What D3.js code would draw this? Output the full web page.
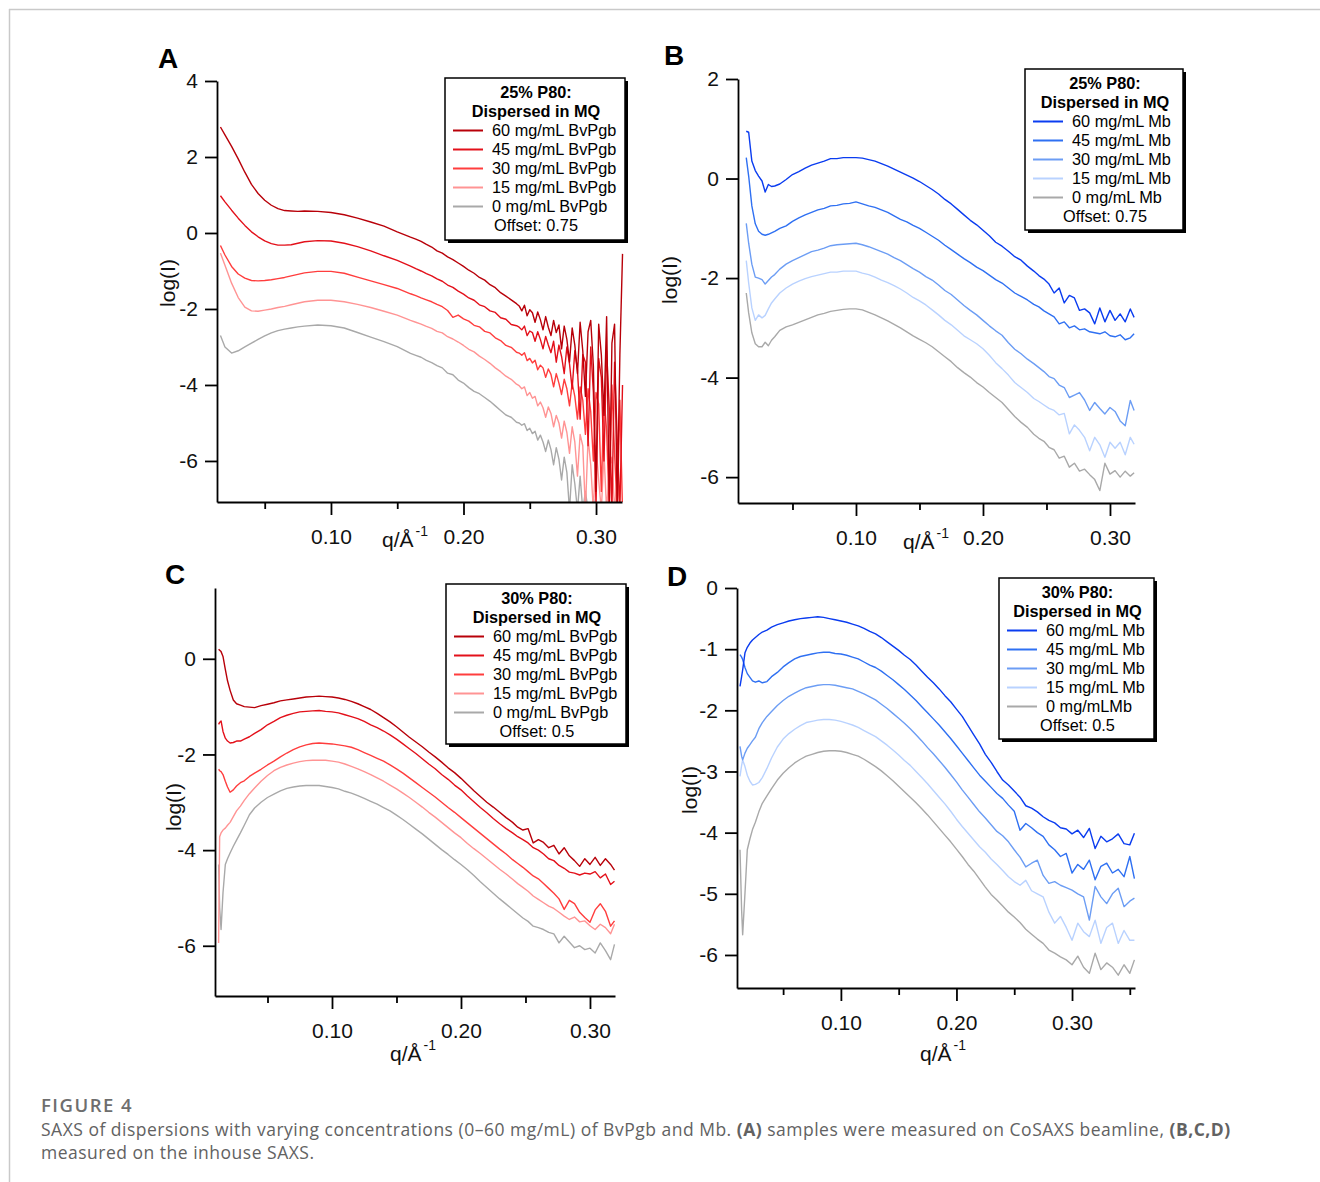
<!DOCTYPE html>
<html><head><meta charset="utf-8">
<script src="https://cdn.jsdelivr.net/npm/d3@7"></script>
<style>body{margin:0;background:#fff}svg{display:block}</style>
</head><body><svg id="c" width="1320" height="1182"></svg>
<script>
// ---------- DATA ----------
const seriesNames = ["60", "45", "30", "15", "0"];
const legendA = ["60 mg/mL BvPgb","45 mg/mL BvPgb","30 mg/mL BvPgb","15 mg/mL BvPgb","0 mg/mL BvPgb"];
const legendB = ["60 mg/mL Mb","45 mg/mL Mb","30 mg/mL Mb","15 mg/mL Mb","0 mg/mL Mb"];
const legendC = ["60 mg/mL BvPgb","45 mg/mL BvPgb","30 mg/mL BvPgb","15 mg/mL BvPgb","0 mg/mL BvPgb"];
const legendD = ["60 mg/mL Mb","45 mg/mL Mb","30 mg/mL Mb","15 mg/mL Mb","0 mg/mLMb"];
const titlesA = ["25% P80:", "Dispersed in MQ", "Offset: 0.75"];
const titlesB = ["25% P80:", "Dispersed in MQ", "Offset: 0.75"];
const titlesC = ["30% P80:", "Dispersed in MQ", "Offset: 0.5"];
const titlesD = ["30% P80:", "Dispersed in MQ", "Offset: 0.5"];
const xMajorTicks = [0.10, 0.20, 0.30];
const xMinorTicksABC = [0.05, 0.15, 0.25];
const xMinorTicksD = [0.05, 0.15, 0.25, 0.35];
const yTicksA = [4, 2, 0, -2, -4, -6];
const yTicksB = [2, 0, -2, -4, -6];
const yTicksC = [0, -2, -4, -6];
const yTicksD = [0, -1, -2, -3, -4, -5, -6];

// Panel A (q in 1/Å, log(I))
const qA = [0.0166,0.020,0.025,0.030,0.035,0.040,0.045,0.050,0.055,0.060,0.065,0.070,0.075,0.080,0.090,0.100,0.110,0.120,0.130,0.140,0.150,0.160,
0.164,0.168,0.172,0.176,0.180,0.184,0.188,0.192,0.196,0.200,0.204,0.208,0.212,0.216,0.220,0.224,0.228,0.232,0.236,0.240,
0.242,0.244,0.246,0.248,0.250,0.252,0.254,0.256,0.258,0.260,0.262,0.264,0.266,0.268,0.270,0.272,0.274,0.276,0.278,0.280,0.282,0.284,0.286,0.288,0.290,0.292,0.294,0.296,0.298,0.300,0.302,0.304,0.306,0.308,0.310,0.312,0.314,0.316,0.318,0.320];
const A60 = [2.79,2.58,2.28,1.95,1.60,1.28,1.04,0.86,0.73,0.64,0.59,0.58,0.57,0.58,0.57,0.54,0.48,0.39,0.29,0.18,0.03,-0.11,
-0.16,-0.22,-0.30,-0.37,-0.47,-0.53,-0.63,-0.70,-0.79,-0.88,-0.98,-1.06,-1.17,-1.24,-1.36,-1.44,-1.57,-1.66,-1.76,-1.86,
-1.92,-2.05,-1.90,-2.18,-2.02,-2.10,-2.35,-2.08,-2.28,-2.55,-2.20,-2.48,-2.70,-2.30,-2.62,-2.42,-3.05,-2.45,-2.80,-3.40,-2.50,-2.95,-3.70,-2.35,-3.10,-4.30,-2.60,-2.30,-3.50,-6.80,-2.40,-3.20,-4.80,-2.20,-7.20,-2.90,-2.40,-7.30,-3.20,-0.55];
const A45 = [0.98,0.82,0.60,0.39,0.20,0.03,-0.10,-0.21,-0.28,-0.32,-0.32,-0.31,-0.27,-0.23,-0.20,-0.21,-0.27,-0.36,-0.47,-0.60,-0.72,-0.87,
-0.94,-1.00,-1.07,-1.13,-1.21,-1.27,-1.37,-1.43,-1.53,-1.61,-1.71,-1.77,-1.89,-1.94,-2.05,-2.09,-2.23,-2.27,-2.41,-2.44,
-2.48,-2.55,-2.45,-2.70,-2.58,-2.62,-2.85,-2.60,-2.80,-3.05,-2.72,-2.95,-3.15,-2.85,-3.40,-2.95,-3.25,-3.70,-3.00,-3.45,-4.10,-3.10,-3.60,-4.90,-3.20,-3.40,-5.60,-3.00,-4.20,-7.20,-3.30,-3.80,-6.00,-3.10,-4.60,-7.30,-3.40,-5.40,-7.30,-4.00];
const A30 = [-0.33,-0.58,-0.88,-1.08,-1.19,-1.25,-1.26,-1.25,-1.23,-1.20,-1.17,-1.13,-1.09,-1.05,-1.01,-1.01,-1.06,-1.16,-1.26,-1.36,-1.46,-1.60,
-1.65,-1.71,-1.76,-1.81,-1.88,-1.94,-2.04,-2.22,-2.16,-2.26,-2.32,-2.43,-2.47,-2.59,-2.63,-2.76,-2.83,-2.96,-3.01,-3.14,
-3.16,-3.22,-3.15,-3.36,-3.30,-3.42,-3.35,-3.60,-3.48,-3.55,-3.80,-3.58,-3.72,-4.05,-3.70,-3.95,-4.25,-3.85,-4.10,-4.55,-3.95,-4.30,-4.90,-4.05,-4.40,-5.30,-4.10,-4.70,-6.00,-4.20,-4.50,-6.80,-4.30,-5.20,-7.30,-4.00,-5.80,-7.30,-4.40,-7.30];
const A15 = [-0.53,-0.85,-1.32,-1.70,-1.95,-2.05,-2.06,-2.03,-2.00,-1.96,-1.93,-1.89,-1.85,-1.81,-1.77,-1.77,-1.81,-1.88,-1.96,-2.06,-2.16,-2.30,
-2.35,-2.40,-2.46,-2.51,-2.59,-2.63,-2.73,-2.79,-2.87,-2.96,-3.06,-3.13,-3.24,-3.33,-3.43,-3.55,-3.65,-3.77,-3.85,-3.98,
-4.02,-4.10,-4.05,-4.28,-4.20,-4.35,-4.30,-4.55,-4.45,-4.60,-4.85,-4.58,-4.75,-5.10,-4.80,-5.00,-5.40,-4.95,-5.25,-5.80,-5.10,-5.50,-6.40,-5.30,-5.60,-7.30,-5.40,-6.10,-7.30,-5.60,-6.50,-7.30,-5.80,-7.30,-6.20,-5.90,-7.30,-6.40,-7.30,-7.30];
const A0 = [-2.70,-3.00,-3.16,-3.10,-3.00,-2.90,-2.80,-2.71,-2.63,-2.57,-2.53,-2.50,-2.47,-2.45,-2.42,-2.44,-2.50,-2.62,-2.74,-2.86,-2.99,-3.17,
-3.22,-3.27,-3.35,-3.41,-3.49,-3.55,-3.69,-3.73,-3.87,-3.95,-4.07,-4.17,-4.23,-4.33,-4.43,-4.55,-4.67,-4.79,-4.85,-4.98,
-5.00,-5.06,-5.02,-5.20,-5.14,-5.28,-5.22,-5.45,-5.32,-5.50,-5.75,-5.45,-5.70,-6.10,-5.65,-5.95,-6.50,-5.90,-6.30,-7.30,-6.10,-6.60,-7.30,-6.40,-7.30,-6.80,-7.30,-7.30,-7.00,-7.30,-7.30,-7.30,-7.30,-7.30,-7.30,-7.30,-7.30,-7.30,-7.30,-7.30];

// Panel B
const qB = [0.0136,0.0155,0.018,0.0207,0.0233,0.026,0.0285,0.031,0.0335,0.036,
0.040,0.045,0.050,0.055,0.060,0.065,0.070,0.075,0.080,0.085,0.090,0.095,0.100,0.105,0.110,0.115,0.120,0.125,0.130,0.135,0.140,0.145,0.150,0.155,0.160,0.165,0.170,0.175,0.180,0.185,0.190,0.195,0.200,0.205,0.210,0.215,0.220,0.225,0.230,0.235,0.240,
0.244,0.248,0.252,0.256,0.260,0.264,0.268,0.272,0.276,0.280,0.284,0.288,0.292,0.296,0.300,0.304,0.308,0.312,0.316,0.319];
const B60 = [0.95,0.93,0.35,0.16,0.05,-0.05,-0.27,-0.12,-0.16,-0.15,
-0.11,-0.02,0.08,0.14,0.21,0.27,0.31,0.35,0.40,0.40,0.42,0.42,0.42,0.41,0.38,0.35,0.30,0.25,0.19,0.13,0.07,0.01,-0.06,-0.14,-0.22,-0.31,-0.42,-0.51,-0.62,-0.73,-0.84,-0.93,-1.04,-1.15,-1.28,-1.36,-1.46,-1.57,-1.64,-1.76,-1.86,
-1.95,-2.02,-2.12,-2.30,-2.20,-2.50,-2.35,-2.40,-2.65,-2.62,-2.70,-2.92,-2.60,-2.88,-2.65,-2.85,-2.72,-2.88,-2.62,-2.79];
const B45 = [0.42,0.05,-0.55,-0.91,-1.06,-1.12,-1.14,-1.12,-1.09,-1.06,
-1.00,-0.95,-0.86,-0.79,-0.73,-0.68,-0.63,-0.60,-0.55,-0.54,-0.51,-0.50,-0.47,-0.51,-0.55,-0.58,-0.63,-0.68,-0.75,-0.82,-0.87,-0.94,-1.00,-1.08,-1.16,-1.24,-1.34,-1.43,-1.52,-1.61,-1.69,-1.78,-1.85,-1.94,-2.03,-2.10,-2.20,-2.30,-2.37,-2.44,-2.53,
-2.58,-2.66,-2.72,-2.78,-2.92,-2.88,-3.00,-2.96,-3.04,-3.02,-3.08,-3.10,-3.12,-3.08,-3.16,-3.18,-3.14,-3.24,-3.20,-3.12];
const B30 = [-0.90,-1.30,-1.72,-1.98,-2.00,-2.03,-2.12,-2.05,-1.98,-1.93,
-1.82,-1.72,-1.65,-1.59,-1.53,-1.47,-1.44,-1.40,-1.35,-1.33,-1.32,-1.31,-1.30,-1.33,-1.37,-1.42,-1.47,-1.52,-1.59,-1.65,-1.73,-1.81,-1.88,-1.97,-2.04,-2.14,-2.25,-2.33,-2.44,-2.55,-2.65,-2.74,-2.85,-2.96,-3.06,-3.15,-3.30,-3.43,-3.52,-3.63,-3.72,
-3.80,-3.88,-3.98,-4.02,-4.15,-4.20,-4.40,-4.35,-4.30,-4.45,-4.66,-4.50,-4.62,-4.73,-4.60,-4.68,-4.87,-4.97,-4.46,-4.66];
const B15 = [-1.65,-2.10,-2.60,-2.85,-2.74,-2.80,-2.75,-2.62,-2.50,-2.42,
-2.30,-2.20,-2.12,-2.06,-2.01,-1.97,-1.94,-1.91,-1.88,-1.88,-1.86,-1.86,-1.86,-1.90,-1.93,-1.98,-2.04,-2.09,-2.15,-2.22,-2.30,-2.39,-2.46,-2.54,-2.64,-2.74,-2.85,-2.94,-3.05,-3.16,-3.24,-3.32,-3.42,-3.55,-3.70,-3.82,-3.95,-4.10,-4.20,-4.30,-4.42,
-4.48,-4.55,-4.62,-4.66,-4.75,-4.72,-5.13,-4.95,-5.06,-5.20,-5.47,-5.20,-5.35,-5.60,-5.30,-5.42,-5.30,-5.55,-5.20,-5.34];
const B0 = [-2.30,-2.70,-3.10,-3.32,-3.38,-3.38,-3.29,-3.36,-3.25,-3.18,
-3.05,-2.98,-2.94,-2.89,-2.84,-2.79,-2.74,-2.71,-2.67,-2.65,-2.63,-2.62,-2.62,-2.64,-2.69,-2.74,-2.80,-2.86,-2.93,-3.00,-3.08,-3.16,-3.23,-3.30,-3.38,-3.48,-3.58,-3.68,-3.80,-3.90,-3.99,-4.10,-4.19,-4.30,-4.40,-4.50,-4.64,-4.78,-4.90,-5.00,-5.14,
-5.22,-5.28,-5.40,-5.45,-5.62,-5.58,-5.80,-5.72,-5.88,-5.84,-5.95,-6.05,-6.27,-5.72,-5.94,-5.87,-6.00,-5.88,-5.98,-5.91];

// Panel C
const qC = [0.0121,0.0129,0.014,0.0155,0.0173,0.019,0.021,0.0235,0.026,0.029,0.032,0.036,
0.040,0.045,0.050,0.055,0.060,0.065,0.070,0.075,0.080,0.085,0.090,0.095,0.100,0.105,0.110,0.115,0.120,0.125,0.130,0.135,0.140,0.145,0.150,0.155,0.160,0.165,0.170,0.175,0.180,0.185,0.190,0.195,0.200,0.205,0.210,0.215,0.220,0.225,0.230,0.235,0.240,
0.244,0.248,0.252,0.256,0.260,0.264,0.268,0.272,0.276,0.280,0.284,0.288,0.292,0.296,0.300,0.304,0.308,0.312,0.316,0.319];
const C60 = [0.20,0.18,0.15,0.05,-0.22,-0.46,-0.66,-0.86,-0.94,-0.97,-1.00,-1.01,
-1.02,-0.98,-0.95,-0.92,-0.88,-0.86,-0.84,-0.82,-0.80,-0.79,-0.78,-0.79,-0.80,-0.82,-0.85,-0.89,-0.94,-1.00,-1.06,-1.14,-1.23,-1.32,-1.42,-1.53,-1.64,-1.74,-1.84,-1.95,-2.05,-2.16,-2.28,-2.38,-2.50,-2.63,-2.76,-2.88,-3.00,-3.10,-3.21,-3.32,-3.42,
-3.52,-3.58,-3.55,-3.85,-3.78,-3.84,-3.95,-3.90,-4.08,-3.95,-4.12,-4.22,-4.34,-4.18,-4.30,-4.15,-4.32,-4.18,-4.30,-4.42];
const C45 = [-1.37,-1.33,-1.30,-1.52,-1.66,-1.72,-1.76,-1.75,-1.72,-1.72,-1.68,-1.63,
-1.56,-1.48,-1.38,-1.31,-1.23,-1.18,-1.14,-1.11,-1.10,-1.09,-1.08,-1.10,-1.11,-1.13,-1.17,-1.21,-1.25,-1.31,-1.38,-1.44,-1.51,-1.59,-1.68,-1.78,-1.88,-1.98,-2.09,-2.20,-2.30,-2.42,-2.52,-2.64,-2.74,-2.87,-2.99,-3.11,-3.22,-3.34,-3.45,-3.55,-3.64,
-3.72,-3.78,-3.85,-3.95,-4.00,-4.08,-4.18,-4.22,-4.32,-4.38,-4.46,-4.48,-4.52,-4.48,-4.50,-4.45,-4.58,-4.50,-4.72,-4.65];
const C30 = [-2.31,-2.34,-2.36,-2.42,-2.56,-2.68,-2.79,-2.74,-2.66,-2.59,-2.55,-2.46,
-2.39,-2.31,-2.22,-2.14,-2.05,-1.97,-1.90,-1.84,-1.80,-1.77,-1.76,-1.77,-1.78,-1.80,-1.82,-1.85,-1.90,-1.96,-2.02,-2.08,-2.14,-2.22,-2.30,-2.39,-2.49,-2.59,-2.69,-2.79,-2.89,-3.00,-3.11,-3.21,-3.32,-3.43,-3.54,-3.65,-3.76,-3.87,-3.98,-4.08,-4.20,
-4.28,-4.36,-4.45,-4.54,-4.60,-4.70,-4.80,-4.90,-5.02,-5.24,-5.05,-5.12,-5.30,-5.41,-5.51,-5.25,-5.12,-5.28,-5.59,-5.48];
const C15 = [-5.94,-3.72,-3.64,-3.58,-3.54,-3.48,-3.42,-3.30,-3.18,-3.08,-2.96,-2.82,
-2.70,-2.56,-2.44,-2.34,-2.27,-2.22,-2.18,-2.15,-2.13,-2.12,-2.12,-2.12,-2.14,-2.16,-2.20,-2.25,-2.30,-2.36,-2.42,-2.49,-2.56,-2.64,-2.72,-2.81,-2.90,-3.00,-3.10,-3.21,-3.31,-3.42,-3.53,-3.64,-3.74,-3.86,-3.97,-4.07,-4.18,-4.29,-4.40,-4.50,-4.61,
-4.70,-4.78,-4.86,-4.96,-5.03,-5.10,-5.17,-5.22,-5.30,-5.38,-5.45,-5.40,-5.50,-5.48,-5.58,-5.66,-5.55,-5.62,-5.75,-5.55];
const C0 = [-4.30,-5.20,-5.66,-4.89,-4.30,-4.18,-4.06,-3.92,-3.79,-3.64,-3.48,-3.26,
-3.12,-3.00,-2.90,-2.83,-2.76,-2.71,-2.68,-2.66,-2.65,-2.65,-2.65,-2.67,-2.69,-2.72,-2.77,-2.81,-2.86,-2.92,-2.98,-3.04,-3.11,-3.18,-3.27,-3.36,-3.46,-3.56,-3.66,-3.77,-3.88,-3.99,-4.09,-4.20,-4.30,-4.41,-4.53,-4.66,-4.78,-4.90,-5.02,-5.13,-5.24,
-5.33,-5.42,-5.49,-5.59,-5.62,-5.66,-5.72,-5.75,-5.94,-5.80,-5.92,-6.04,-6.00,-6.08,-6.05,-6.15,-5.94,-6.10,-6.29,-5.97];

// Panel D
const qD = [0.0127,0.0141,0.015,0.017,0.019,0.0213,0.0235,0.026,0.029,0.032,0.036,
0.040,0.045,0.050,0.055,0.060,0.065,0.070,0.075,0.080,0.085,0.090,0.095,0.100,0.105,0.110,0.115,0.120,0.125,0.130,0.135,0.140,0.145,0.150,0.155,0.160,0.165,0.170,0.175,0.180,0.185,0.190,0.195,0.200,0.205,0.210,0.215,0.220,0.225,0.230,0.235,0.240,0.245,0.250,0.255,0.260,0.265,0.270,0.275,0.280,0.285,0.290,0.295,0.300,0.305,0.310,0.315,0.320,0.325,0.330,0.335,0.340,0.345,0.350,0.354];
const D60 = [-1.61,-1.45,-1.34,-1.06,-0.97,-0.90,-0.85,-0.81,-0.76,-0.72,-0.69,
-0.64,-0.60,-0.57,-0.54,-0.52,-0.50,-0.49,-0.48,-0.47,-0.48,-0.50,-0.52,-0.54,-0.56,-0.59,-0.62,-0.66,-0.71,-0.75,-0.81,-0.88,-0.95,-1.02,-1.10,-1.17,-1.26,-1.36,-1.46,-1.55,-1.65,-1.76,-1.86,-1.98,-2.10,-2.25,-2.40,-2.55,-2.72,-2.85,-3.00,-3.14,-3.22,-3.32,-3.42,-3.56,-3.60,-3.66,-3.74,-3.80,-3.84,-3.92,-3.94,-4.02,-3.96,-4.08,-3.93,-4.26,-4.06,-4.15,-4.10,-4.02,-4.18,-4.20,-4.01];
const D45 = [-1.09,-1.13,-1.17,-1.30,-1.40,-1.46,-1.52,-1.54,-1.52,-1.55,-1.53,
-1.45,-1.38,-1.29,-1.22,-1.16,-1.12,-1.10,-1.08,-1.06,-1.05,-1.05,-1.07,-1.08,-1.10,-1.13,-1.16,-1.21,-1.26,-1.30,-1.36,-1.43,-1.50,-1.58,-1.66,-1.75,-1.84,-1.94,-2.04,-2.14,-2.24,-2.35,-2.46,-2.58,-2.70,-2.82,-2.94,-3.06,-3.16,-3.26,-3.36,-3.44,-3.55,-3.65,-3.96,-3.85,-3.92,-4.00,-4.06,-4.20,-4.28,-4.39,-4.34,-4.66,-4.52,-4.60,-4.45,-4.77,-4.55,-4.50,-4.66,-4.60,-4.72,-4.39,-4.75];
const D30 = [-2.59,-2.75,-2.81,-2.70,-2.62,-2.56,-2.50,-2.44,-2.30,-2.20,-2.10,
-2.02,-1.92,-1.84,-1.77,-1.72,-1.67,-1.63,-1.61,-1.59,-1.58,-1.58,-1.59,-1.61,-1.63,-1.65,-1.69,-1.73,-1.78,-1.83,-1.90,-1.97,-2.05,-2.13,-2.21,-2.30,-2.40,-2.50,-2.61,-2.71,-2.82,-2.93,-3.05,-3.17,-3.30,-3.42,-3.54,-3.66,-3.76,-3.87,-3.98,-4.05,-4.15,-4.28,-4.40,-4.56,-4.50,-4.45,-4.70,-4.83,-4.80,-4.86,-4.90,-4.94,-5.00,-5.05,-5.43,-4.88,-5.05,-5.16,-5.00,-4.91,-5.21,-5.12,-5.07];
const D15 = [-3.08,-2.90,-2.81,-2.92,-3.06,-3.16,-3.22,-3.21,-3.18,-3.10,-2.95,
-2.78,-2.60,-2.47,-2.38,-2.31,-2.25,-2.20,-2.18,-2.16,-2.15,-2.15,-2.16,-2.18,-2.21,-2.24,-2.28,-2.33,-2.38,-2.43,-2.50,-2.57,-2.65,-2.73,-2.82,-2.90,-3.00,-3.10,-3.20,-3.31,-3.42,-3.53,-3.65,-3.78,-3.90,-4.01,-4.12,-4.23,-4.32,-4.43,-4.52,-4.62,-4.72,-4.80,-4.86,-4.78,-4.95,-5.00,-5.05,-5.30,-5.48,-5.37,-5.55,-5.76,-5.48,-5.62,-5.70,-5.43,-5.81,-5.55,-5.48,-5.81,-5.60,-5.76,-5.76];
const D0 = [-4.28,-5.27,-5.67,-4.99,-4.28,-4.10,-3.95,-3.83,-3.66,-3.52,-3.40,
-3.28,-3.14,-3.03,-2.94,-2.86,-2.80,-2.75,-2.72,-2.69,-2.67,-2.66,-2.66,-2.67,-2.69,-2.72,-2.75,-2.80,-2.86,-2.92,-2.99,-3.07,-3.15,-3.24,-3.33,-3.42,-3.51,-3.61,-3.71,-3.82,-3.93,-4.04,-4.15,-4.27,-4.39,-4.52,-4.63,-4.76,-4.89,-5.01,-5.10,-5.20,-5.30,-5.38,-5.47,-5.58,-5.66,-5.74,-5.81,-5.92,-5.97,-6.03,-6.08,-6.16,-6.02,-6.20,-6.30,-5.97,-6.24,-6.13,-6.20,-6.33,-6.16,-6.30,-6.08];

// ---------- STYLE ----------
const redColors  = ["#b80009", "#e3101a", "#ff3d3d", "#ff9494", "#a9a9a9"];
const blueColors = ["#0a3cf0", "#2f70f2", "#6c9df4", "#b9d2ff", "#a9a9a9"];
const FONT = "'Liberation Sans', Arial, Helvetica, sans-serif";

const panels = [
  {id:"A", q:qA, s:[A60,A45,A30,A15,A0], colors:redColors, names:legendA, titles:titlesA,
   left:217, right:622, top:81, bottom:502, xdom:[0.014,0.3196], ydom:[-7.08,4], yticks:yTicksA, xminor:xMinorTicksABC,
   letter:[158,68], ylab:[175,283], xlab:[382,547], leg:[445,78,180,162]},
  {id:"B", q:qB, s:[B60,B45,B30,B15,B0], colors:blueColors, names:legendB, titles:titlesB,
   left:738, right:1135, top:79, bottom:503, xdom:[0.0071,0.3197], ydom:[-6.52,2], yticks:yTicksB, xminor:xMinorTicksABC,
   letter:[664,65], ylab:[677,280], xlab:[903,549], leg:[1025,69,158,161]},
  {id:"C", q:qC, s:[C60,C45,C30,C15,C0], colors:redColors, names:legendC, titles:titlesC,
   left:215, right:615, top:588, bottom:996, xdom:[0.0093,0.3194], ydom:[-7.05,1.48], yticks:yTicksC, xminor:xMinorTicksABC,
   letter:[165,584], ylab:[181,807], xlab:[390,1061], leg:[446,584,180,160]},
  {id:"D", q:qD, s:[D60,D45,D30,D15,D0], colors:blueColors, names:legendD, titles:titlesD,
   left:737, right:1135, top:588, bottom:988, xdom:[0.0101,0.3545], ydom:[-6.54,0], yticks:yTicksD, xminor:xMinorTicksD,
   letter:[667,586], ylab:[697,790], xlab:[920,1061], leg:[999,578,155,161]}
];

const svg = d3.select("#c");

// frame
svg.append("line").attr("x1",9).attr("x2",1320).attr("y1",9.5).attr("y2",9.5).attr("stroke","#c9c9c9").attr("stroke-width",1.5);
svg.append("line").attr("x1",9.5).attr("x2",9.5).attr("y1",9).attr("y2",1182).attr("stroke","#c9c9c9").attr("stroke-width",1.5);

panels.forEach(p => {
  const x = d3.scaleLinear().domain(p.xdom).range([p.left, p.right]);
  const y = d3.scaleLinear().domain(p.ydom).range([p.bottom, p.top]);
  const g = svg.append("g");

  const clipId = "clip" + p.id;
  svg.append("clipPath").attr("id", clipId).append("rect")
    .attr("x", p.left).attr("y", p.top - 2).attr("width", p.right - p.left + 2).attr("height", p.bottom - p.top + 2);

  const line = d3.line().x(d => x(d[0])).y(d => y(d[1]));
  const lg = g.append("g").attr("clip-path", `url(#${clipId})`);
  for (let i = p.s.length - 1; i >= 0; i--) {
    lg.append("path").datum(d3.zip(p.q, p.s[i]))
      .attr("d", line).attr("fill", "none").attr("stroke", p.colors[i])
      .attr("stroke-width", 1.4).attr("stroke-linejoin", "round");
  }

  const ya = g.append("g").attr("transform", `translate(${p.left},0)`)
    .call(d3.axisLeft(y).tickValues(p.yticks).tickSize(12).tickSizeOuter(0).tickPadding(7).tickFormat(d => String(d)));
  const xa = g.append("g").attr("transform", `translate(0,${p.bottom})`)
    .call(d3.axisBottom(x).tickValues(xMajorTicks).tickSize(13).tickSizeOuter(0).tickPadding(14).tickFormat(d3.format(".2f")));
  const xm = g.append("g").attr("transform", `translate(0,${p.bottom})`)
    .call(d3.axisBottom(x).tickValues(p.xminor).tickSize(7).tickSizeOuter(0).tickFormat(""));
  xm.select(".domain").remove();
  [ya, xa, xm].forEach(a => {
    a.selectAll(".domain").attr("stroke", "#000").attr("stroke-width", 1.8);
    a.selectAll(".tick line").attr("stroke", "#000").attr("stroke-width", 1.8);
    a.selectAll("text").attr("font-family", FONT).attr("font-size", 21).attr("fill", "#111");
  });

  g.append("text").attr("transform", `translate(${p.ylab[0]},${p.ylab[1]}) rotate(-90)`)
    .attr("text-anchor", "middle").attr("font-family", FONT).attr("font-size", 21).attr("fill", "#111").text("log(I)");
  const xl = g.append("text").attr("x", p.xlab[0]).attr("y", p.xlab[1])
    .attr("font-family", FONT).attr("font-size", 21).attr("fill", "#111");
  xl.append("tspan").text("q/Å");
  xl.append("tspan").attr("dy", -11).attr("dx", 2).attr("font-size", 14).text("-1");

  g.append("text").attr("x", p.letter[0]).attr("y", p.letter[1]).attr("font-family", FONT)
    .attr("font-weight", "bold").attr("font-size", 28).attr("fill", "#000").text(p.id);

  const [lx, ly, lw, lh] = p.leg;
  const L = g.append("g");
  L.append("rect").attr("x", lx + 3).attr("y", ly + 3).attr("width", lw).attr("height", lh).attr("fill", "#000");
  L.append("rect").attr("x", lx).attr("y", ly).attr("width", lw).attr("height", lh)
    .attr("fill", "#fff").attr("stroke", "#000").attr("stroke-width", 1.5);
  const cx = lx + lw / 2 + 1;
  L.append("text").attr("x", cx).attr("y", ly + 20).attr("text-anchor", "middle").attr("font-family", FONT)
    .attr("font-weight", "bold").attr("font-size", 16.3).text(p.titles[0]);
  L.append("text").attr("x", cx).attr("y", ly + 39).attr("text-anchor", "middle").attr("font-family", FONT)
    .attr("font-weight", "bold").attr("font-size", 16.3).text(p.titles[1]);
  p.names.forEach((nm, i) => {
    const by = ly + 58 + 19 * i;
    L.append("line").attr("x1", lx + 8).attr("x2", lx + 38).attr("y1", by - 5.5).attr("y2", by - 5.5)
      .attr("stroke", p.colors[i]).attr("stroke-width", 2);
    L.append("text").attr("x", lx + 47).attr("y", by).attr("font-family", FONT).attr("font-size", 16.3)
      .attr("fill", "#000").text(nm);
  });
  L.append("text").attr("x", cx).attr("y", ly + 153).attr("text-anchor", "middle").attr("font-family", FONT)
    .attr("font-size", 16.3).text(p.titles[2]);
});

// caption
const CAP = "'Open Sans', 'Noto Sans', sans-serif";
svg.append("text").attr("x", 41).attr("y", 1112).attr("font-family", CAP).attr("font-weight", 600)
  .attr("font-size", 18.5).attr("letter-spacing", 1.5).attr("fill", "#6e6e6e").text("FIGURE 4");
const c1 = svg.append("text").attr("x", 41).attr("y", 1136).attr("font-family", CAP).attr("font-size", 17.5)
  .attr("letter-spacing", 0.5).attr("fill", "#626262");
c1.append("tspan").text("SAXS of dispersions with varying concentrations (0–60 mg/mL) of BvPgb and Mb. ");
c1.append("tspan").attr("font-weight", "bold").text("(A)");
c1.append("tspan").text(" samples were measured on CoSAXS beamline, ");
c1.append("tspan").attr("font-weight", "bold").text("(B,C,D)");
svg.append("text").attr("x", 41).attr("y", 1159).attr("font-family", CAP).attr("font-size", 17.5)
  .attr("letter-spacing", 0.5).attr("fill", "#626262").text("measured on the inhouse SAXS.");
</script>
</body></html>
